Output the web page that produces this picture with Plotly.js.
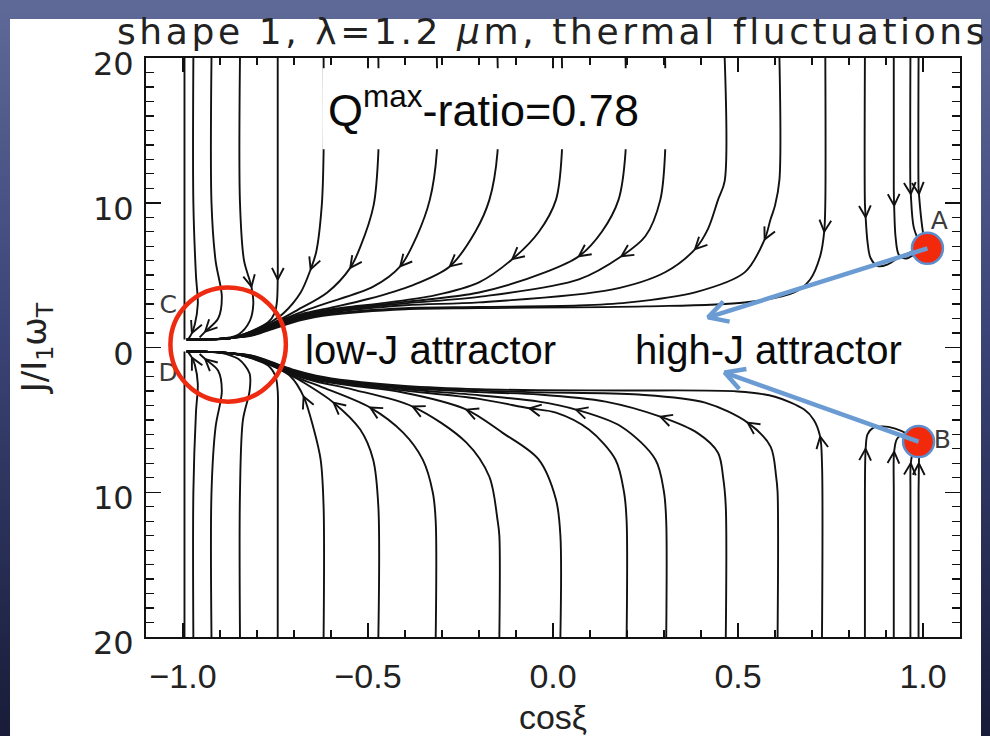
<!DOCTYPE html>
<html><head><meta charset="utf-8">
<script src="https://cdn.plot.ly/plotly-3.0.1.min.js"></script>
<style>
html,body{margin:0;padding:0;width:990px;height:736px;overflow:hidden;
background:linear-gradient(to bottom,#5f6a98 0%,#3b4476 45%,#181c38 100%);}
#chart{position:absolute;left:0;top:0;width:990px;height:736px;}
#chart .gtitle{letter-spacing:3.6px;}
</style></head><body><div id="chart"></div>
<script>
// ---- axis ticks ----
const xTickVals = [-1, -0.5, 0, 0.5, 1];
const xTickText = ['\u22121.0', '\u22120.5', '0.0', '0.5', '1.0'];
const yTickVals = [-20, -10, 0, 10, 20];
const yTickText = ['20', '10', '0', '10', '20'];

// ---- trajectories [cos xi, J/I1 wT], upper half (J>0) ----
const U01 = [[-0.996,20],[-0.996,0.55]];
const U02 = [[-0.972,20],[-0.972,10],[-0.965,5],[-0.960,3],[-0.968,1.6],[-0.976,1.0],[-0.985,0.6]];
const U03 = [[-0.923,20],[-0.923,10],[-0.912,6],[-0.895,3.5],[-0.905,2.0],[-0.940,1.1],[-0.955,0.7]];
const U04 = [[-0.846,20],[-0.846,10],[-0.835,6],[-0.815,4.2],[-0.810,3.0],[-0.820,1.8],[-0.850,0.9],[-0.900,0.6]];
const U05 = [[-0.744,20],[-0.744,8],[-0.744,4.7],[-0.746,3.2],[-0.752,2.4],[-0.770,1.75],[-0.816,1.12]];
const U06 = [[-0.620,20],[-0.620,13.5],[-0.625,9.8],[-0.640,6.6],[-0.655,5.4],[-0.682,3.8],[-0.727,2.4],[-0.760,1.8],[-0.816,1.1]];
const U07 = [[-0.472,20],[-0.472,13.5],[-0.485,9.8],[-0.520,7.0],[-0.548,5.5],[-0.610,3.8],[-0.690,2.6],[-0.744,1.85],[-0.816,1.07]];
const U08 = [[-0.314,20],[-0.314,13.5],[-0.333,10.2],[-0.368,7.7],[-0.413,5.6],[-0.486,4.2],[-0.620,3.0],[-0.680,2.45],[-0.744,1.8],[-0.816,1.04]];
const U09 = [[-0.150,20],[-0.150,13.5],[-0.172,10.2],[-0.210,8.0],[-0.279,5.6],[-0.380,4.3],[-0.500,3.35],[-0.600,2.75],[-0.680,2.3],[-0.744,1.74],[-0.816,1.0]];
const U10 = [[0.024,20],[0.024,13.5],[0.008,10.2],[-0.038,8.0],[-0.110,6.1],[-0.200,4.5],[-0.320,3.6],[-0.450,3.1],[-0.600,2.65],[-0.680,2.22],[-0.744,1.68],[-0.816,0.97]];
const U11 = [[0.196,20],[0.196,13.5],[0.177,10.2],[0.132,8.0],[0.070,6.3],[-0.020,5.2],[-0.200,3.8],[-0.400,3.15],[-0.600,2.58],[-0.680,2.15],[-0.744,1.63],[-0.816,0.94]];
const U12 = [[0.303,20],[0.303,13.5],[0.290,10.2],[0.250,7.7],[0.185,6.3],[0.070,4.7],[-0.200,3.5],[-0.400,3.05],[-0.600,2.5],[-0.680,2.08],[-0.744,1.58],[-0.816,0.91]];
const U13 = [[0.464,20],[0.464,11.5],[0.446,10.2],[0.419,8.2],[0.384,6.8],[0.303,5.2],[0.158,4.0],[-0.200,3.12],[-0.400,2.92],[-0.600,2.42],[-0.680,2.02],[-0.744,1.52],[-0.816,0.88]];
const U14 = [[0.612,20],[0.612,11.6],[0.600,9.8],[0.588,8.86],[0.572,7.47],[0.518,5.19],[0.384,3.81],[0.200,3.1],[0.070,2.9],[-0.200,2.8],[-0.400,2.72],[-0.600,2.34],[-0.680,1.96],[-0.744,1.46],[-0.816,0.84]];
const U15 = [[0.736,20],[0.736,10],[0.733,8.0],[0.722,6.3],[0.695,4.7],[0.652,3.8],[0.518,3.11],[0.250,2.84],[-0.200,2.72],[-0.400,2.64],[-0.600,2.26],[-0.680,1.9],[-0.744,1.4],[-0.816,0.8]];
const U16 = [[0.843,20],[0.843,10],[0.845,9.0],[0.850,7.3],[0.858,6.2],[0.878,5.62],[0.905,5.75],[0.940,6.3],[0.995,6.85]];
const U17 = [[0.921,20],[0.921,11],[0.922,9.8],[0.926,7.6],[0.935,6.4],[0.955,6.15],[0.980,6.5],[1.000,6.85]];
const U18 = [[0.966,20],[0.966,11],[0.967,10.6],[0.975,8.3],[0.995,7.0]];
const U19 = [[0.988,20],[0.988,11],[0.989,10.6],[0.998,8.3],[1.006,7.1]];
const attractorUp = [[-0.870,0.66],[-0.930,0.56],[-0.990,0.55]];

// ---- lower half (J<0) ----
const L01 = [[-0.996,-20],[-0.996,-0.28]];
const L02 = [[-0.972,-20],[-0.972,-10],[-0.965,-4.5],[-0.960,-2.5],[-0.968,-1.2],[-0.976,-0.7],[-0.985,-0.35]];
const L03 = [[-0.923,-20],[-0.923,-10],[-0.912,-5.5],[-0.895,-3.0],[-0.905,-1.6],[-0.940,-0.8],[-0.955,-0.45]];
const L04 = [[-0.846,-20],[-0.846,-10],[-0.838,-5.0],[-0.820,-3.0],[-0.820,-1.8],[-0.850,-0.8],[-0.900,-0.35]];
const L05 = [[-0.744,-20],[-0.744,-6],[-0.744,-3.0],[-0.750,-2.0],[-0.770,-1.25],[-0.816,-0.74]];
const L06 = [[-0.620,-20],[-0.620,-11],[-0.628,-7.75],[-0.647,-5.6],[-0.674,-3.39],[-0.709,-2.0],[-0.744,-1.45],[-0.816,-0.72]];
const L07 = [[-0.472,-20],[-0.472,-11],[-0.486,-7.75],[-0.521,-5.67],[-0.593,-3.81],[-0.674,-2.42],[-0.720,-1.75],[-0.744,-1.4],[-0.816,-0.7]];
const L08 = [[-0.317,-20],[-0.317,-12],[-0.325,-10],[-0.352,-7.75],[-0.405,-5.88],[-0.494,-4.15],[-0.628,-2.7],[-0.700,-2.0],[-0.744,-1.37],[-0.816,-0.68]];
const L09 = [[-0.145,-20],[-0.145,-13],[-0.150,-11.9],[-0.172,-8.93],[-0.234,-6.57],[-0.379,-4.08],[-0.540,-2.91],[-0.640,-2.35],[-0.700,-1.9],[-0.744,-1.34],[-0.816,-0.66]];
const L10 = [[0.020,-20],[0.020,-13],[0.008,-10.5],[-0.040,-7.7],[-0.137,-5.88],[-0.234,-4.29],[-0.405,-3.11],[-0.550,-2.62],[-0.640,-2.25],[-0.700,-1.84],[-0.744,-1.31],[-0.816,-0.64]];
const L11 = [[0.199,-20],[0.199,-12],[0.192,-10],[0.169,-7.75],[0.097,-5.67],[0.008,-4.5],[-0.064,-4.2],[-0.200,-3.55],[-0.400,-2.98],[-0.550,-2.55],[-0.640,-2.18],[-0.700,-1.78],[-0.744,-1.28],[-0.816,-0.62]];
const L12 = [[0.306,-20],[0.306,-12],[0.300,-10],[0.277,-7.75],[0.185,-5.47],[0.062,-4.29],[-0.038,-3.74],[-0.200,-3.3],[-0.400,-2.88],[-0.550,-2.48],[-0.640,-2.12],[-0.700,-1.72],[-0.744,-1.25],[-0.816,-0.6]];
const L13 = [[0.467,-20],[0.467,-11],[0.460,-9],[0.446,-7.27],[0.390,-5.9],[0.290,-4.78],[0.142,-3.74],[-0.038,-3.25],[-0.200,-3.08],[-0.400,-2.8],[-0.550,-2.42],[-0.640,-2.06],[-0.700,-1.66],[-0.744,-1.22],[-0.816,-0.58]];
const L14 = [[0.607,-20],[0.607,-10],[0.603,-8.9],[0.588,-6.85],[0.526,-5.19],[0.411,-3.81],[0.231,-3.25],[-0.038,-3.1],[-0.200,-2.98],[-0.400,-2.72],[-0.550,-2.36],[-0.640,-2.0],[-0.700,-1.6],[-0.744,-1.19],[-0.816,-0.56]];
const L15 = [[0.727,-20],[0.727,-8],[0.722,-6.16],[0.705,-5.0],[0.679,-4.29],[0.600,-3.4],[0.499,-3.04],[0.200,-2.97],[-0.038,-2.95],[-0.200,-2.88],[-0.400,-2.65],[-0.550,-2.3],[-0.640,-1.94],[-0.700,-1.55],[-0.744,-1.16],[-0.816,-0.54]];
const L16 = [[0.843,-20],[0.843,-10],[0.845,-7.0],[0.850,-6.0],[0.865,-5.55],[0.890,-5.45],[0.925,-5.6],[0.960,-6.0],[0.985,-6.45]];
const L17 = [[0.921,-20],[0.921,-10],[0.922,-7.2],[0.930,-6.3],[0.950,-6.0],[0.975,-6.25],[0.988,-6.5]];
const L18 = [[0.966,-20],[0.966,-10],[0.967,-8.0],[0.975,-7.0],[0.985,-6.6]];
const L19 = [[0.988,-20],[0.988,-10],[0.989,-8.0],[0.990,-6.6]];
const attractorLow = [[-0.870,-0.40],[-0.930,-0.30],[-0.990,-0.28]];

// which point of each trajectory carries its direction arrow (-1 = none)
const upperArrowIdx = [-1,5,5,3,2,4,4,4,4,4,4,4,4,4,2,2,2,2,2];
const lowerArrowIdx = [-1,5,5,-1,-1,4,4,5,5,5,6,5,5,4,2,2,2,2,2];

// ---- marked states A, B and labels ----
const dotX = [1.012, 0.988];
const dotY = [6.85, -6.5];
const letterX = [-1.040, -1.040, 1.044, 1.052];
const letterY = [2.8, -1.85, 8.65, -6.5];
const letterText = ['C', 'D', 'A', 'B'];
const blueHeadX = [0.419, 0.464];
const blueHeadY = [2.08, -1.73];

// ---- assemble ----
const upperCurves = [U01,U02,U03,U04,U05,U06,U07,U08,U09,U10,U11,U12,U13,U14,U15,U16,U17,U18,U19];
const lowerCurves = [L01,L02,L03,L04,L05,L06,L07,L08,L09,L10,L11,L12,L13,L14,L15,L16,L17,L18,L19];
const joinsAttractor = (i) => i >= 4 && i <= 14;

const W = 990, H = 736;
const M = {l:146, r:30, t:58, b:99};
const xr = [-1.1, 1.1], yr = [-20, 20];
const plotW = W - M.l - M.r, plotH = H - M.t - M.b;
const sx = plotW / (xr[1] - xr[0]);   // px per x unit
const sy = plotH / (yr[1] - yr[0]);   // px per y unit

const traces = [];
const lineStyle = {color:'#111', width:1.9, shape:'spline', smoothing:0.9};

function addCurve(pts, tail) {
  const all = tail ? pts.concat(tail) : pts;
  traces.push({type:'scatter', mode:'lines', x: all.map(p => p[0]), y: all.map(p => p[1]),
    line: lineStyle, hoverinfo:'skip', showlegend:false});
}
// open "V" arrow head at a point, pointing along direction (dx,dy) given in px
function vHead(tip, dxp, dyp, len, half, bx, by) {
  const n = Math.hypot(dxp, dyp) || 1;
  const ux = -dxp / n, uy = -dyp / n, c = Math.cos(half), s = Math.sin(half);
  const a1 = [ux*c - uy*s, ux*s + uy*c], a2 = [ux*c + uy*s, -ux*s + uy*c];
  bx.push(tip[0] + a1[0]*len/sx, tip[0], tip[0] + a2[0]*len/sx, null);
  by.push(tip[1] + a1[1]*len/sy, tip[1], tip[1] + a2[1]*len/sy, null);
}
const chevX = [], chevY = [];
function addChevron(pts, i) {
  if (i < 0) return;
  const a = pts[Math.max(i-1, 0)], b = pts[Math.min(i+1, pts.length-1)];
  vHead(pts[i], (b[0]-a[0])*sx, (b[1]-a[1])*sy, 13, 0.47, chevX, chevY);
}
upperCurves.forEach((c, i) => { addCurve(c, joinsAttractor(i) ? attractorUp : null); addChevron(c, upperArrowIdx[i]); });
lowerCurves.forEach((c, i) => { addCurve(c, joinsAttractor(i) ? attractorLow : null); addChevron(c, lowerArrowIdx[i]); });
traces.push({type:'scatter', mode:'lines', x: chevX, y: chevY, line:{color:'#111', width:1.9},
  hoverinfo:'skip', showlegend:false, connectgaps:false});

traces.push({type:'scatter', mode:'text', x: letterX, y: letterY, text: letterText,
  textfont:{family:'DejaVu Sans', size:25, color:'#3a3a3a'}, hoverinfo:'skip', showlegend:false, cliponaxis:false});
traces.push({type:'scatter', mode:'markers', x: dotX, y: dotY,
  marker:{size:31, color:'#f3290b', line:{color:'#5b8dcf', width:2.5}}, hoverinfo:'skip', showlegend:false, cliponaxis:false});

// blue pointer arrows from A and B to the high-J attractor
for (let k = 0; k < 2; k++) {
  const bxs = [dotX[k], blueHeadX[k], null], bys = [dotY[k], blueHeadY[k], null];
  vHead([blueHeadX[k], blueHeadY[k]], (blueHeadX[k]-dotX[k])*sx, (blueHeadY[k]-dotY[k])*sy, 22, 0.5, bxs, bys);
  traces.push({type:'scatter', mode:'lines', x: bxs, y: bys, line:{color:'#6b9bd3', width:4.5},
    hoverinfo:'skip', showlegend:false, cliponaxis:false});
}

const labelFont = {family:'Liberation Sans, Arial', size:40, color:'#0a0a0a'};
const annotations = [
  {x:-0.189, y:16.6, xref:'x', yref:'y', text:'Q<sup>max</sup>-ratio=0.78', showarrow:false,
   font:{family:'Liberation Sans, Arial', size:45, color:'#0a0a0a'}},
  {x:-0.332, y:-0.14, xref:'x', yref:'y', text:'low-J attractor', showarrow:false, font:labelFont},
  {x:0.583, y:-0.14, xref:'x', yref:'y', text:'high-J attractor', showarrow:false, font:labelFont}
];

const shapes = [
  // white page panel inside the dark frame
  {type:'rect', xref:'paper', yref:'paper', x0:(10-M.l)/plotW, x1:(981-M.l)/plotW,
   y0:(H-M.b-H)/plotH - 0.01, y1:(H-M.b-19)/plotH, fillcolor:'#fff', line:{width:0}, layer:'below'},
  {type:'rect', xref:'x', yref:'y', x0:-0.623, x1:0.309, y0:13.7, y1:19.3, fillcolor:'#fff',
   line:{width:0}, layer:'above'},
  {type:'circle', xref:'x', yref:'y', x0:-1.034, x1:-0.722, y0:-3.74, y1:4.15,
   line:{color:'#ee2a10', width:4.5}, layer:'above'}
];

const axisCommon = {showline:true, linecolor:'#111', linewidth:2, mirror:'allticks', ticks:'inside',
  tickcolor:'#111', tickwidth:1.5, showgrid:false, zeroline:false, fixedrange:true, automargin:false};

const layout = {
  width: W, height: H, margin: Object.assign({pad:0}, M),
  paper_bgcolor:'rgba(0,0,0,0)', plot_bgcolor:'rgba(0,0,0,0)', showlegend:false,
  title:{text:'shape 1, \u03bb=1.2 <i>\u03bc</i>m, thermal fluctuations',
    font:{family:'DejaVu Sans', size:36, color:'#222'},
    xref:'container', x:117/W, xanchor:'left', yref:'container', y:1 - 31/H, yanchor:'middle'},
  xaxis: Object.assign({}, axisCommon, {range:xr, tickmode:'array', tickvals:xTickVals, ticktext:xTickText,
    ticklen:14, minor:{tickmode:'linear', tick0:0, dtick:0.1, ticks:'inside', ticklen:7, tickwidth:1.3, tickcolor:'#111', showgrid:false},
    tickfont:{family:'Liberation Sans, Arial', size:34, color:'#222'}, ticklabelstandoff:8,
    title:{text:'cos\u03be', font:{family:'Liberation Sans, Arial', size:34, color:'#222'}, standoff:12}}),
  yaxis: Object.assign({}, axisCommon, {range:yr, tickmode:'array', tickvals:yTickVals, ticktext:yTickText,
    ticklen:15, minor:{tickmode:'linear', tick0:0, dtick:1, ticks:'inside', ticklen:8, tickwidth:1.3, tickcolor:'#111', showgrid:false},
    tickfont:{family:'DejaVu Sans', size:32, color:'#222'}, ticklabelstandoff:4, ticklabelshift:6,
    title:{text:'J/I<sub>1</sub>\u03c9<sub>T</sub>', font:{family:'DejaVu Sans', size:34, color:'#222'}, standoff:36}}),
  shapes: shapes, annotations: annotations
};

Plotly.newPlot('chart', traces, layout, {staticPlot:true, displayModeBar:false});
</script></body></html>
